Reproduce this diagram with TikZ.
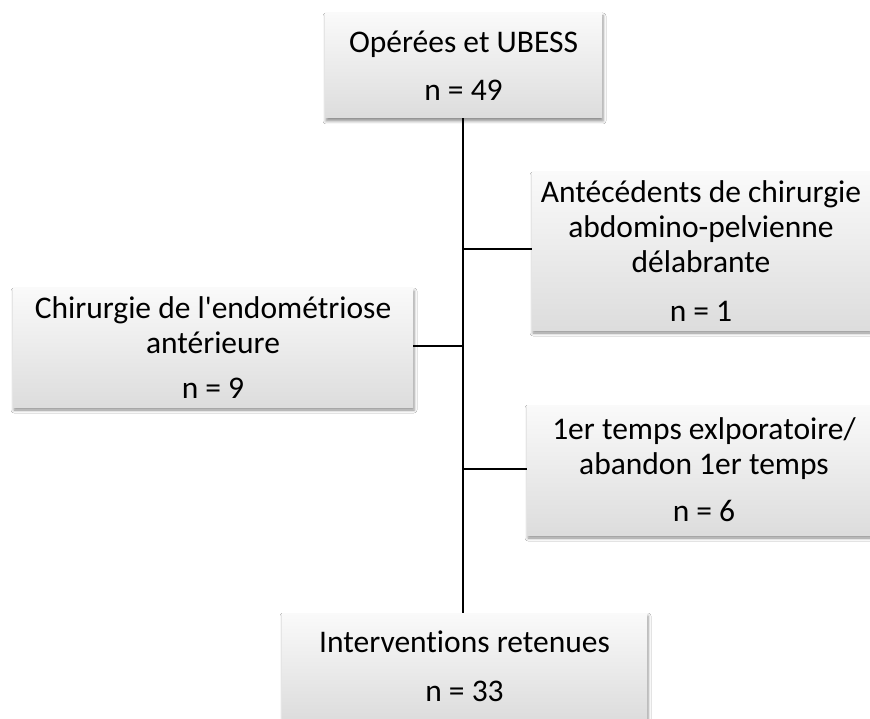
\documentclass[tikz,border=0pt]{standalone}
\usepackage{fontspec}
\setmainfont{Carlito}[Ligatures={NoCommon}]
\usetikzlibrary{shadows.blur}
\begin{document}
\begin{tikzpicture}[x=1pt,y=-1pt,
  box/.style={rectangle, inner sep=0pt, align=center,
    top color=gray!4, bottom color=gray!27, draw=none,
    font=\fontsize{31.5}{35}\selectfont,
    blur shadow={shadow xshift=1pt, shadow yshift=-3pt, shadow blur radius=3pt, shadow opacity=45}},
  link/.style={draw=black, line width=1.6pt},
  trunk/.style={draw=black, line width=2.6pt}]
\useasboundingbox (0,0) rectangle (870,719);
\fill[white] (0,0) rectangle (870,719);

\node[box, minimum width=277pt, minimum height=105pt] (top) at (463.5,65.5)
  {Opérées et UBESS\\[13pt] n = 49};
\node[box, minimum width=400pt, minimum height=119pt] (left) at (213,347.5)
  {Chirurgie de l\textquotesingle endométriose\\ antérieure\\[10pt] n = 9};
\node[box, minimum width=338pt, minimum height=158pt] (right1) at (701,251)
  {Antécédents de chirurgie\\ abdomino-pelvienne\\ délabrante\\[14pt] n = 1};
\node[box, minimum width=354pt, minimum height=130pt] (right2) at (704,470)
  {1er temps exlporatoire/\\ abandon 1er temps\\[12pt] n = 6};
\node[box, minimum width=365pt, minimum height=106pt] (bottom) at (464.5,666)
  {Interventions retenues\\[14pt] n = 33};

\coordinate (jog) at (463,567);
\coordinate (j1) at (463,249);
\coordinate (j2) at (463,346);
\coordinate (j3) at (463,469);

\draw[trunk] (top.south -| jog) -- (jog);
\draw[link] (jog) -- (bottom.north -| jog);
\draw[link] (j1) -- (j1 -| right1.west);
\draw[link] (j2) -- (j2 -| left.east);
\draw[link] (j3) -- (j3 -| right2.west);
\end{tikzpicture}
\end{document}
